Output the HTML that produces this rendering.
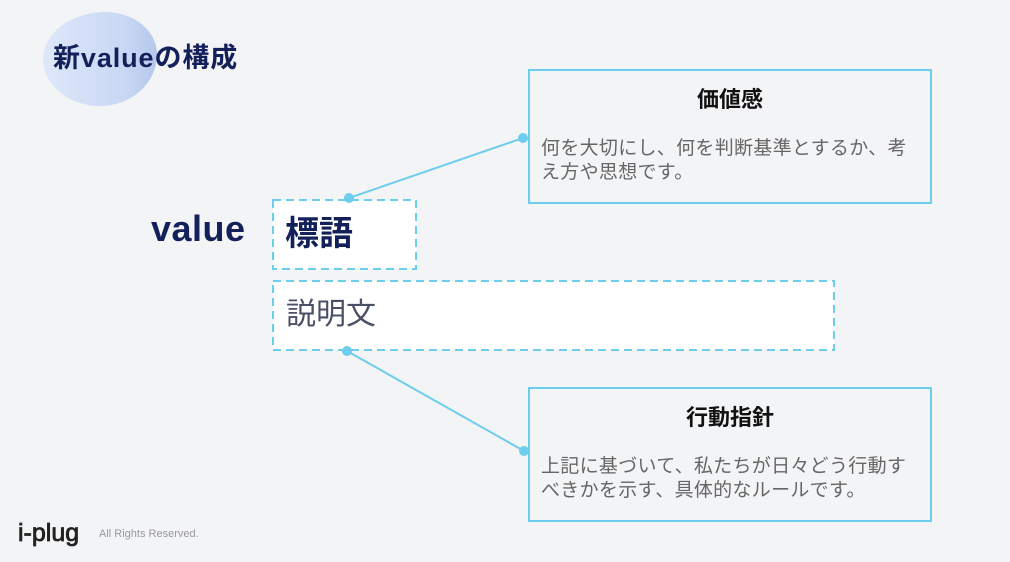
<!DOCTYPE html>
<html><head><meta charset="utf-8"><style>
*{margin:0;padding:0;box-sizing:border-box}
body{width:1010px;height:562px;background:#f3f4f6;position:relative;overflow:hidden;font-family:"Liberation Sans","Noto Sans CJK JP",sans-serif}
.a{position:absolute}
</style></head><body>
<div class="a" style="left:43px;top:12px;width:114px;height:94px;border-radius:55% 45% 50% 50%/50% 45% 55% 50%;background:linear-gradient(90deg,#dfe8fa,#c9d8f5 70%,#b6c7ec);"></div>
<div class="a" style="left:53px;top:36px;font-size:27px;font-weight:bold;color:#14205a;letter-spacing:0.9px;white-space:nowrap">新valueの構成</div>
<div class="a" style="left:151px;top:208px;font-size:36px;font-weight:bold;color:#14205a;letter-spacing:0.5px">value</div>
<svg class="a" style="left:0;top:0" width="1010" height="562">
<line x1="349" y1="198" x2="523" y2="138" stroke="#6dcdec" stroke-width="2"/>
<line x1="347" y1="351" x2="524" y2="451" stroke="#6dcdec" stroke-width="2"/>
<rect x="273" y="200" width="143" height="69" fill="#fff" stroke="#6dcdec" stroke-width="2" stroke-dasharray="8,5"/>
<rect x="273" y="281" width="561" height="69" fill="#fff" stroke="#6dcdec" stroke-width="2" stroke-dasharray="8,5"/>
<rect x="529" y="70" width="402" height="133" fill="#f3f4f6" stroke="#6dcdec" stroke-width="2"/>
<rect x="529" y="388" width="402" height="133" fill="#f3f4f6" stroke="#6dcdec" stroke-width="2"/>
<circle cx="349" cy="198" r="5" fill="#6dcdec"/>
<circle cx="523" cy="138" r="5" fill="#6dcdec"/>
<circle cx="347" cy="351" r="5" fill="#6dcdec"/>
<circle cx="524" cy="451" r="5" fill="#6dcdec"/>
</svg>
<div class="a" style="left:285px;top:212px;font-size:34px;font-weight:bold;color:#14205a;line-height:44px">標語</div>
<div class="a" style="left:286px;top:294px;font-size:30px;color:#4a5068;line-height:42px">説明文</div>
<div class="a" style="left:529px;top:82px;width:402px;text-align:center;font-size:22px;font-weight:bold;color:#111">価値感</div>
<div class="a" style="left:541px;top:137px;width:375px;font-size:19px;letter-spacing:0.3px;line-height:24px;color:#666">何を大切にし、何を判断基準とするか、考え方や思想です。</div>
<div class="a" style="left:529px;top:400px;width:402px;text-align:center;font-size:22px;font-weight:bold;color:#111">行動指針</div>
<div class="a" style="left:541px;top:455px;width:375px;font-size:19px;letter-spacing:0.3px;line-height:24px;color:#666">上記に基づいて、私たちが日々どう行動すべきかを示す、具体的なルールです。</div>
<div class="a" style="left:18px;top:518px;font-size:25px;color:#222;line-height:30px;-webkit-text-stroke:0.8px #222">i-plug</div>
<div class="a" style="left:99px;top:528px;font-size:11px;color:#999">All Rights Reserved.</div>
</body></html>
